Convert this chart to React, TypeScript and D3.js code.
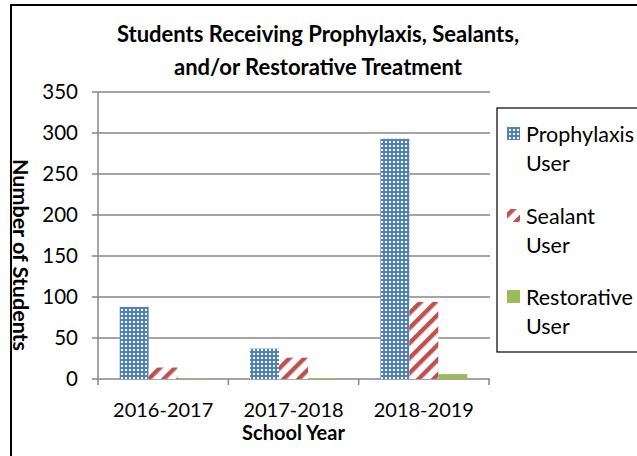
import React from "react";
import * as d3 from "d3";

const categories = ["2016-2017", "2017-2018", "2018-2019"];
const seriesNames = ["Prophylaxis", "Sealant", "Restorative"];
const prophylaxis = [88, 37, 293];
const sealant = [14, 26, 94];
const restorative = [1, 1, 6];
const yTicks = [0, 50, 100, 150, 200, 250, 300, 350];
const titleLines = ["Students Receiving Prophylaxis, Sealants,", "and/or Restorative Treatment"];

const FONT = "Lato, 'Open Sans', sans-serif";
const W = 637;
const H = 456;

export default function App() {
  const plot = { left: 98, right: 489, top: 92, bottom: 379 };
  const x0 = d3.scaleBand<string>().domain(categories).range([plot.left, plot.right]).padding(0);
  const bw = x0.bandwidth();
  const x1 = d3.scaleBand<string>().domain(seriesNames).range([bw / 6, (bw * 5) / 6]).padding(0);
  const y = d3.scaleLinear().domain([0, 350]).range([plot.bottom, plot.top]);

  const seriesData = [prophylaxis, sealant, restorative];
  const fills = ["url(#patProph)", "url(#patSeal)", "#9BBB59"];
  const axisColor = "#878787";

  const legendRows = [
    { name: "Prophylaxis", fill: fills[0], cy: 134 },
    { name: "Sealant", fill: fills[1], cy: 216 },
    { name: "Restorative", fill: fills[2], cy: 297 },
  ];

  return (
    <svg width={W} height={H} style={{ position: "absolute", left: 0, top: 0 }} fontFamily={FONT}>
      <defs>
        <pattern id="patProph" width={4} height={4} patternUnits="userSpaceOnUse">
          <rect width={4} height={4} fill="#4F81BD" />
          <rect x={1} y={1} width={2} height={2} fill="#ffffff" />
        </pattern>
        <pattern id="patSeal" width={10.6} height={10} patternUnits="userSpaceOnUse" patternTransform="rotate(45)">
          <rect width={10.6} height={10} fill="#ffffff" />
          <rect width={4.4} height={10} fill="#C0504D" />
        </pattern>
      </defs>
      <rect x={0} y={0} width={W} height={H} fill="#ffffff" />
      {/* outer border */}
      <rect x={11} y={5} width={W + 20} height={H + 20} fill="none" stroke="#000" strokeWidth={2} />

      {/* title */}
      {titleLines.map((t, i) => (
        <text key={i} x={318} y={42 + i * 33} textAnchor="middle" fontWeight="bold" fontSize={22} fill="#000">
          {t}
        </text>
      ))}

      {/* gridlines */}
      {yTicks.map((t) => (
        <line key={"g" + t} x1={plot.left - 6} x2={plot.right + 1} y1={y(t)} y2={y(t)} stroke={axisColor} strokeWidth={1.6} />
      ))}
      {/* y axis */}
      <line x1={plot.left} x2={plot.left} y1={plot.top} y2={plot.bottom} stroke={axisColor} strokeWidth={1.5} />
      {yTicks.map((t) => (
        <text key={"yl" + t} x={78} y={y(t)} dy="0.36em" textAnchor="end" fontSize={20.5} fill="#000">
          {t}
        </text>
      ))}
      {/* x ticks */}
      {[...categories.map((c) => x0(c) as number), plot.right].map((xx, i) => (
        <line key={"xt" + i} x1={xx} x2={xx} y1={plot.bottom} y2={plot.bottom + 6} stroke={axisColor} strokeWidth={1.5} />
      ))}
      {categories.map((c) => (
        <text key={"xl" + c} x={(x0(c) as number) + bw / 2} y={417} textAnchor="middle" fontSize={20} fill="#000">
          {c}
        </text>
      ))}

      {/* bars */}
      {categories.map((c, ci) =>
        seriesNames.map((s, si) => {
          const v = seriesData[si][ci];
          const bx = (x0(c) as number) + (x1(s) as number);
          return (
            <rect key={c + s} x={bx} y={y(v)} width={x1.bandwidth()} height={y(0) - y(v)} fill={fills[si]} />
          );
        })
      )}

      {/* axis titles */}
      <text x={(plot.left + plot.right) / 2} y={440} textAnchor="middle" fontWeight="bold" fontSize={20} fill="#000">
        School Year
      </text>
      <text transform={`translate(21, 255) rotate(90)`} textAnchor="middle" dy="0.36em" fontWeight="bold" fontSize={21.5} fill="#000">
        Number of Students
      </text>

      {/* legend */}
      <rect x={497} y={108} width={200} height={244} fill="#fff" stroke="#000" strokeWidth={1.2} />
      {legendRows.map((r) => (
        <g key={r.name}>
          <rect x={507} y={r.cy - 7} width={13} height={13} fill={r.fill} />
          <text x={526} y={r.cy} dy="0.36em" fontSize={21.5} fill="#000">
            {r.name}
          </text>
          <text x={526} y={r.cy + 29} dy="0.36em" fontSize={21.5} fill="#000">
            User
          </text>
        </g>
      ))}
    </svg>
  );
}
